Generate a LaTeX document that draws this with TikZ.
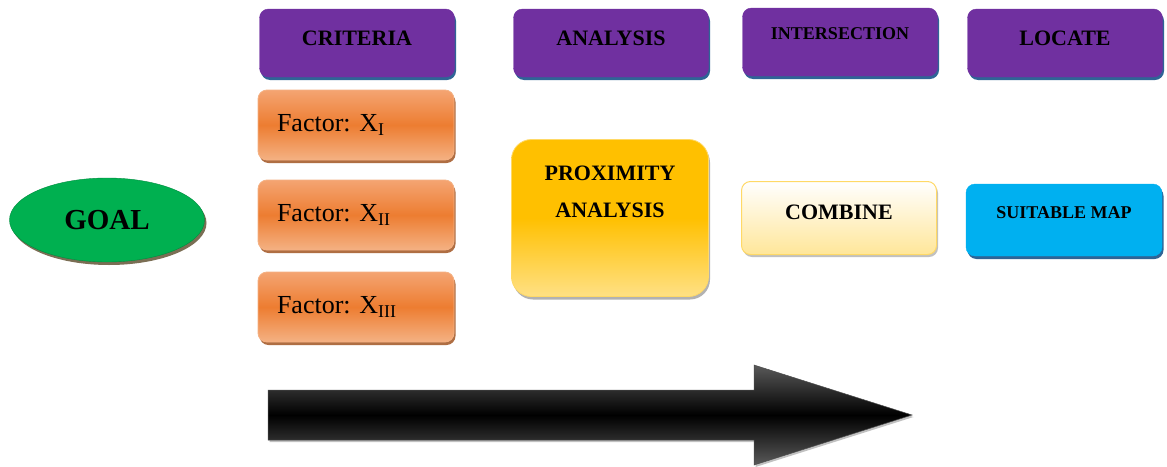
\documentclass[tikz,border=0pt]{standalone}
\usepackage{fontspec}
\setmainfont{Liberation Serif}
\usetikzlibrary{shapes.geometric,shadows}
\definecolor{purp}{HTML}{7030A0}
\definecolor{shblue}{HTML}{2F6496}
\definecolor{oranM}{HTML}{ED7D31}
\definecolor{oranL}{HTML}{F4A472}
\definecolor{oranB}{HTML}{F4B183}
\definecolor{oranSh}{HTML}{9C4A14}
\definecolor{yelM}{HTML}{FFC000}
\definecolor{yelL}{HTML}{FFD966}
\definecolor{creamB}{HTML}{FFE699}
\definecolor{creamBd}{HTML}{FFD966}
\definecolor{cyanF}{HTML}{00B0F0}
\definecolor{greenF}{HTML}{00B050}
\definecolor{greenSh}{HTML}{5A4A2A}
\tikzset{
  hdrbox/.style={rectangle, rounded corners=9pt, fill=purp, draw=purp,
    minimum width=195pt, minimum height=68pt, inner sep=0pt,
    font=\fontsize{22}{24}\selectfont\bfseries, text depth=10pt,
    drop shadow={shadow xshift=1.5pt, shadow yshift=-3pt, fill=shblue, opacity=1}},
  factbox/.style={rectangle, rounded corners=9pt, draw=oranB, line width=0.8pt,
    top color=oranL, bottom color=oranB, middle color=oranM,
    minimum width=196pt, minimum height=70pt, inner sep=0pt,
    text width=158pt, align=left,
    font=\fontsize{26}{28}\selectfont,
    drop shadow={shadow xshift=1.5pt, shadow yshift=-3pt, fill=oranSh, opacity=0.8}},
  proxbox/.style={rectangle, rounded corners=20pt, draw=yelL, line width=0.8pt,
    top color=yelM, bottom color=yelL!80!white, middle color=yelM,
    minimum width=197pt, minimum height=157pt, inner sep=0pt, align=center,
    font=\fontsize{22}{37}\selectfont\bfseries,
    drop shadow={shadow xshift=1.5pt, shadow yshift=-3pt, fill=black!50, opacity=0.6}},
  combbox/.style={rectangle, rounded corners=9pt, draw=creamBd, line width=1pt,
    top color=white, bottom color=creamB,
    minimum width=195pt, minimum height=73pt, inner sep=0pt,
    font=\fontsize{22}{24}\selectfont\bfseries, text depth=12pt,
    drop shadow={shadow xshift=1.5pt, shadow yshift=-2.5pt, fill=black!40, opacity=0.6}},
  mapbox/.style={rectangle, rounded corners=9pt, fill=cyanF, draw=cyanF,
    minimum width=196pt, minimum height=72pt, inner sep=0pt,
    font=\fontsize{18}{20}\selectfont\bfseries, text depth=14pt,
    drop shadow={shadow xshift=1.5pt, shadow yshift=-3pt, fill=shblue, opacity=1}},
  goalnode/.style={ellipse, fill=greenF, draw=greenF!80!black,
    minimum width=195pt, minimum height=84pt, inner sep=0pt,
    font=\fontsize{29}{30}\selectfont\bfseries,
    drop shadow={shadow xshift=2pt, shadow yshift=-3pt, fill=greenSh, opacity=0.8}},
  bigarrow/.style={top color=black!65, bottom color=black!65, middle color=black,
    draw=black!70, line width=0.5pt,
    drop shadow={shadow xshift=1.5pt, shadow yshift=-2pt, fill=black!40, opacity=0.6}}
}
\newcommand{\sub}[1]{{\fontsize{18}{18}\selectfont\raisebox{-4pt}{#1}}}
\begin{document}
\begin{tikzpicture}[x=1pt,y=-1pt]
\useasboundingbox (0,0) rectangle (1167,466);
\fill[white] (0,0) rectangle (1167,466);

\node[goalnode] (goal) at (107,220) {GOAL};

\node[hdrbox] (criteria) at (357,43) {CRITERIA};
\node[hdrbox] (analysis) at (611,43) {ANALYSIS};
\node[hdrbox, font=\fontsize{18}{20}\selectfont\bfseries, text depth=16pt] (inter) at (840,42) {INTERSECTION};
\node[hdrbox] (locate) at (1065,43) {LOCATE};

\node[factbox] (f1) at (356,125) {Factor:\ X\sub{I}};
\node[factbox] (f2) at (356,215) {Factor:\ X\sub{II}};
\node[factbox] (f3) at (356,307) {Factor:\ X\sub{III}};

\node[proxbox, text depth=52pt] (prox) at (610,218) {PROXIMITY\\ANALYSIS};
\node[combbox] (comb) at (839,218) {COMBINE};
\node[mapbox] (map) at (1064,220) {SUITABLE MAP};

\path[bigarrow] (268,390) -- (754,390) -- (754,365) -- (912,415)
  -- (754,465) -- (754,440) -- (268,440) -- cycle;
\end{tikzpicture}
\end{document}
